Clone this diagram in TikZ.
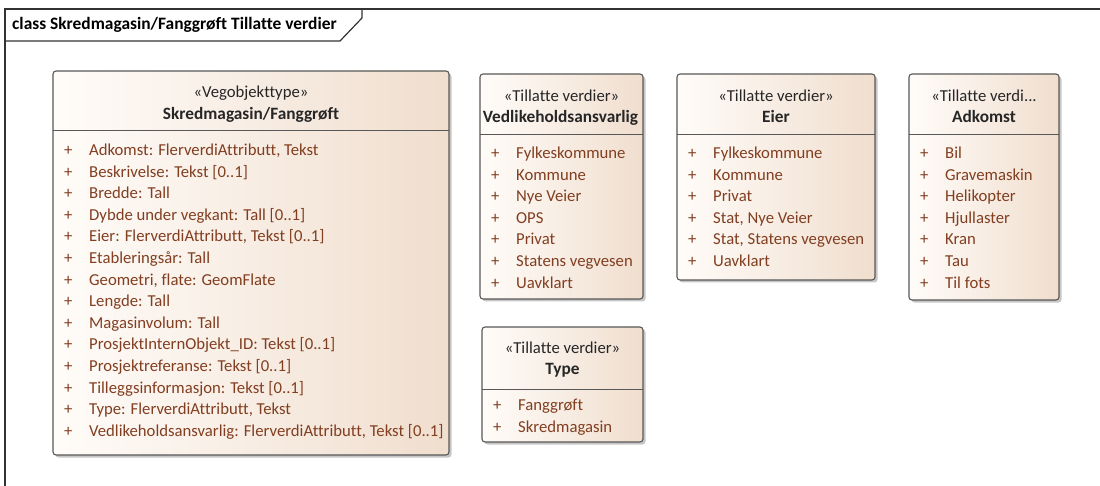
\documentclass[tikz,border=0pt]{standalone}
\usepackage{fontspec}
\setmainfont{Carlito}[Ligatures=NoCommon]
\usetikzlibrary{shadows}
\definecolor{kant}{RGB}{88,88,88}
\definecolor{lys}{RGB}{255,252,249}
\definecolor{brun}{RGB}{240,222,206}
\definecolor{attr}{RGB}{130,62,32}
\newcommand\pluss{\makebox[25pt][l]{+}}
\begin{document}
\begin{tikzpicture}[x=1pt,y=-1pt, %Pixelkoordinater, y nedover
	ramme/.style={draw=black!80, line width=1.2pt},
	boks/.style={draw=kant, line width=1.1pt, rounded corners=3pt, left color=lys, right color=brun,
		drop shadow={shadow xshift=2.5pt, shadow yshift=-2.5pt, fill=black!50, opacity=.45}},
	skille/.style={draw=kant, line width=1pt},
	ster/.style={anchor=base, inner sep=0pt, font=\fontsize{16.7}{18}\selectfont, text=black!85},
	navn/.style={ster, font=\fontsize{17.3}{18}\selectfont\bfseries},
	verdi/.style={anchor=base west, inner sep=0pt, font=\fontsize{16.7}{18}\selectfont, text=attr}]
	\useasboundingbox (0,0) rectangle (1100,486);
		%Ramme med fane
	\draw[ramme] (1100,9) -- (5,9) -- (5,486);
	\draw[ramme] (5,41) -- (340,41) -- (362,18) -- (362,9);
	\node[anchor=base west, inner sep=0pt, font=\fontsize{17.4}{18}\selectfont\bfseries] (tittel) at (12,29.5) {class Skredmagasin/Fanggrøft Tillatte verdier};
		%Vegobjekttype
	\draw[boks] (53,71) rectangle (449,455);
	\draw[skille] (53,131) -- (449,131);
	\node[ster] (sHoved) at (251,97.5) {«Vegobjekttype»};
	\node[navn] (nHoved) at (251,119.5) {Skredmagasin/Fanggrøft};
	\node[verdi] (h1) at (64,155.5) {\pluss Adkomst: FlerverdiAttributt, Tekst};
	\node[verdi] (h2) at (64,177.1) {\pluss Beskrivelse: Tekst [0..1]};
	\node[verdi] (h3) at (64,198.7) {\pluss Bredde: Tall};
	\node[verdi] (h4) at (64,220.3) {\pluss Dybde under vegkant: Tall [0..1]};
	\node[verdi] (h5) at (64,241.9) {\pluss Eier: FlerverdiAttributt, Tekst [0..1]};
	\node[verdi] (h6) at (64,263.5) {\pluss Etableringsår: Tall};
	\node[verdi] (h7) at (64,285.1) {\pluss Geometri, flate: GeomFlate};
	\node[verdi] (h8) at (64,306.7) {\pluss Lengde: Tall};
	\node[verdi] (h9) at (64,328.3) {\pluss Magasinvolum: Tall};
	\node[verdi] (h10) at (64,349.9) {\pluss ProsjektInternObjekt\_ID: Tekst [0..1]};
	\node[verdi] (h11) at (64,371.5) {\pluss Prosjektreferanse: Tekst [0..1]};
	\node[verdi] (h12) at (64,393.1) {\pluss Tilleggsinformasjon: Tekst [0..1]};
	\node[verdi] (h13) at (64,414.7) {\pluss Type: FlerverdiAttributt, Tekst};
	\node[verdi] (h14) at (64,436.3) {\pluss Vedlikeholdsansvarlig: FlerverdiAttributt, Tekst [0..1]};
		%Vedlikeholdsansvarlig
	\draw[boks] (480,74) rectangle (643,299);
	\draw[skille] (480,135) -- (643,135);
	\node[ster] (sVedl) at (561.5,101.5) {«Tillatte verdier»};
	\node[navn] (nVedl) at (560.5,122.5) {Vedlikeholdsansvarlig};
	\node[verdi] (v1) at (491,158.5) {\pluss Fylkeskommune};
	\node[verdi] (v2) at (491,180.1) {\pluss Kommune};
	\node[verdi] (v3) at (491,201.7) {\pluss Nye Veier};
	\node[verdi] (v4) at (491,223.3) {\pluss OPS};
	\node[verdi] (v5) at (491,244.9) {\pluss Privat};
	\node[verdi] (v6) at (491,266.5) {\pluss Statens vegvesen};
	\node[verdi] (v7) at (491,288.1) {\pluss Uavklart};
		%Eier
	\draw[boks] (677,74) rectangle (875,280);
	\draw[skille] (677,135) -- (875,135);
	\node[ster] (sEier) at (776,101.5) {«Tillatte verdier»};
	\node[navn] (nEier) at (776,122.5) {Eier};
	\node[verdi] (e1) at (688,158.5) {\pluss Fylkeskommune};
	\node[verdi] (e2) at (688,180.1) {\pluss Kommune};
	\node[verdi] (e3) at (688,201.7) {\pluss Privat};
	\node[verdi] (e4) at (688,223.3) {\pluss Stat, Nye Veier};
	\node[verdi] (e5) at (688,244.9) {\pluss Stat, Statens vegvesen};
	\node[verdi] (e6) at (688,266.5) {\pluss Uavklart};
		%Adkomst
	\draw[boks] (909,74) rectangle (1059,300);
	\draw[skille] (909,135) -- (1059,135);
	\node[ster] (sAdk) at (984,101.5) {«Tillatte verdi...};
	\node[navn] (nAdk) at (984,122.5) {Adkomst};
	\node[verdi] (k1) at (920,158.5) {\pluss Bil};
	\node[verdi] (k2) at (920,180.1) {\pluss Gravemaskin};
	\node[verdi] (k3) at (920,201.7) {\pluss Helikopter};
	\node[verdi] (k4) at (920,223.3) {\pluss Hjullaster};
	\node[verdi] (k5) at (920,244.9) {\pluss Kran};
	\node[verdi] (k6) at (920,266.5) {\pluss Tau};
	\node[verdi] (k7) at (920,288.1) {\pluss Til fots};
		%Type
	\draw[boks] (482,327) rectangle (643,442);
	\draw[skille] (482,389) -- (643,389);
	\node[ster] (sType) at (562.5,353.5) {«Tillatte verdier»};
	\node[navn] (nType) at (562.5,374.5) {Type};
	\node[verdi] (t1) at (493,410.5) {\pluss Fanggrøft};
	\node[verdi] (t2) at (493,432.1) {\pluss Skredmagasin};
\end{tikzpicture}
\end{document}
